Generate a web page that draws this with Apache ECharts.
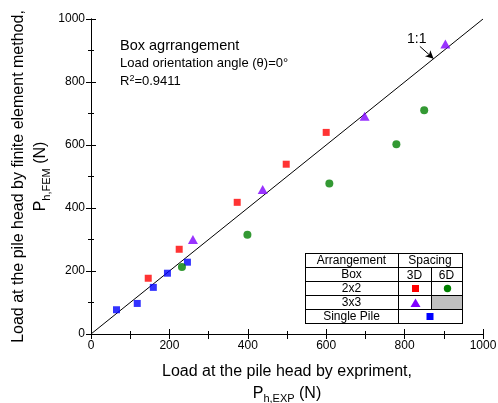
<!DOCTYPE html>
<html>
<head>
<meta charset="utf-8">
<script src="https://cdn.jsdelivr.net/npm/echarts@6/dist/echarts.min.js"></script>
<style>
  html, body { margin: 0; padding: 0; background: #fff; }
  #chart { width: 498px; height: 403px; }
</style>
</head>
<body>
<div id="chart"></div>
<script>
// Measured pile-head loads (N): experiment (x) vs finite element model (y)
const singlePile = [[65, 77], [118, 97], [159, 148], [195, 193], [246, 228]];
const box2x2_3D = [[146, 177], [225, 269], [373, 418], [498, 539], [600, 640]];
const box2x2_6D = [[232, 213], [399, 315], [608, 478], [779, 602], [850, 710]];
const box3x3_3D = [[260, 300], [438, 459], [698, 691], [904, 921]];
const oneToOne = [[0, 0], [1000, 1000]];

const axisTicks = [0, 200, 400, 600, 800, 1000];
const tableRows = ['Arrangement', 'Box', '2x2', '3x3', 'Single Pile'];
const spacingLabels = ['Spacing', '3D', '6D'];
const annotationLines = ['Box agrrangement', 'Load orientation angle (\u03b8)=0\u00b0', 'R{sup|2}=0.9411'];

const FONT = '"Liberation Sans", Arial, sans-serif';
const RED = '#ff0000', GREEN = '#008000', PURPLE = '#8000ff', BLUE = '#0000ff';

const chart = echarts.init(document.getElementById('chart'), null, { renderer: 'canvas' });

const baseAxis = {
  min: axisTicks[0],
  max: axisTicks[axisTicks.length - 1],
  interval: axisTicks[1] - axisTicks[0],
  axisLine: { show: true, lineStyle: { color: '#000', width: 1 } },
  axisTick: { show: true, inside: true, length: 5, lineStyle: { color: '#000' } },
  minorTick: { show: true, splitNumber: 2, length: 3, lineStyle: { color: '#000' } },
  splitLine: { show: false },
  axisLabel: { color: '#000', fontSize: 12, fontFamily: FONT, margin: 6, formatter: v => String(v) }
};

const nameRich = {
  t: { fontSize: 16, fontFamily: FONT, color: '#000', lineHeight: 22 },
  p: { fontSize: 16, fontFamily: FONT, color: '#000', lineHeight: 22 },
  s: { fontSize: 11, fontFamily: FONT, color: '#000', lineHeight: 14, verticalAlign: 'bottom' }
};

// Legend table geometry (pixels)
const TX = [305, 398, 431, 462];
const TY = [253, 267, 281, 295, 309, 323];
const lines = [];
function hl(x1, x2, y) { lines.push({ type: 'line', silent: true, shape: { x1: x1, y1: y + 0.5, x2: x2, y2: y + 0.5 }, style: { stroke: '#000', lineWidth: 1 } }); }
function vl(x, y1, y2) { lines.push({ type: 'line', silent: true, shape: { x1: x + 0.5, y1: y1, x2: x + 0.5, y2: y2 }, style: { stroke: '#000', lineWidth: 1 } }); }
TY.forEach(y => hl(TX[0], TX[3] + 1, y));
vl(TX[0], TY[0], TY[5] + 1);
vl(TX[1], TY[0], TY[5] + 1);
vl(TX[3], TY[0], TY[5] + 1);
vl(TX[2], TY[1], TY[4]);

const tableText = [];
function cellText(str, x, y) {
  tableText.push({ type: 'text', silent: true, style: { text: str, x: x, y: y, textAlign: 'center', textVerticalAlign: 'middle', fontSize: 12, fontFamily: FONT, fill: '#000' } });
}
tableRows.forEach((r, i) => cellText(r, (TX[0] + TX[1]) / 2, (TY[i] + TY[i + 1]) / 2 + 0.5));
cellText(spacingLabels[0], (TX[1] + TX[3]) / 2, (TY[0] + TY[1]) / 2 + 0.5);
cellText(spacingLabels[1], (TX[1] + TX[2]) / 2, (TY[1] + TY[2]) / 2 + 1.5);
cellText(spacingLabels[2], (TX[2] + TX[3]) / 2, (TY[1] + TY[2]) / 2 + 1.5);

const c3D = (TX[1] + TX[2]) / 2 + 1, c6D = (TX[2] + TX[3]) / 2 + 1;
const r2 = (TY[2] + TY[3]) / 2 + 0.5, r3 = (TY[3] + TY[4]) / 2 + 1, r4 = (TY[4] + TY[5]) / 2 + 0.5;
const tableMarks = [
  { type: 'rect', silent: true, shape: { x: TX[2] + 1, y: TY[3] + 1, width: TX[3] - TX[2] - 1, height: TY[4] - TY[3] - 1 }, style: { fill: '#c0c0c0' } },
  { type: 'rect', silent: true, shape: { x: c3D - 3.5, y: r2 - 3.5, width: 7, height: 7 }, style: { fill: RED } },
  { type: 'circle', silent: true, shape: { cx: c6D, cy: r2, r: 3.7 }, style: { fill: GREEN } },
  { type: 'polygon', silent: true, shape: { points: [[c3D, r3 - 4.5], [c3D + 5, r3 + 4], [c3D - 5, r3 + 4]] }, style: { fill: PURPLE } },
  { type: 'rect', silent: true, shape: { x: (TX[1] + TX[3]) / 2 - 3.5, y: r4 - 3.5, width: 7, height: 7 }, style: { fill: BLUE } }
];

const annotationSizes = [14.5, 13, 13];
const annotation = annotationLines.map((str, i) => ({
  type: 'text', silent: true,
  style: {
    text: str, x: 120, y: 46 + i * 17.5, textVerticalAlign: 'middle', fontSize: annotationSizes[i], fontFamily: FONT, fill: '#000',
    rich: {
      sup: { fontSize: 9, fontFamily: FONT, fill: '#000', lineHeight: 8, verticalAlign: 'top' }
    }
  }
}));

const scatterBase = { type: 'scatter', xAxisIndex: 0, yAxisIndex: 0, silent: true, z: 5 };

// 1:1 callout
const calloutFrom = [839, 913];
const calloutTo = [874, 874];
const calloutLabelAt = [831, 936];

chart.setOption({
  animation: false,
  backgroundColor: '#fff',
  grid: { left: 91, right: 15, top: 19, bottom: 69, containLabel: false, outerBoundsMode: 'none' },
  xAxis: [
    Object.assign({}, baseAxis, {
      type: 'value', position: 'bottom',
      name: '{t|Load at the pile head by expriment,}\n{p|P}{s|h,EXP}{p| (N)}',
      nameLocation: 'middle', nameGap: 26.5, nameMoveOverlap: false,
      nameTextStyle: { rich: nameRich, fontFamily: FONT }
    }),
    Object.assign({}, baseAxis, {
      type: 'value', position: 'top', interval: 100,
      minorTick: { show: false },
      axisLabel: { show: false }
    })
  ],
  yAxis: [
    Object.assign({}, baseAxis, {
      type: 'value', position: 'left',
      name: '{t|Load at the pile head by finite element method,}\n{p|P}{s|h,FEM}{p| (N)}',
      nameLocation: 'middle', nameGap: 39, nameRotate: 90, nameMoveOverlap: false,
      nameTextStyle: { rich: nameRich, fontFamily: FONT }
    }),
    Object.assign({}, baseAxis, {
      type: 'value', position: 'right',
      axisLabel: { show: false }
    })
  ],
  series: [
    {
      type: 'line', data: oneToOne, xAxisIndex: 0, yAxisIndex: 0, silent: true,
      symbol: 'none', lineStyle: { color: '#000', width: 1 }, z: 3,
      markLine: {
        silent: true, symbol: ['none', 'arrow'], symbolSize: [6, 8],
        lineStyle: { color: '#000', width: 1, type: 'solid' },
        label: { show: false },
        data: [[{ coord: calloutFrom }, { coord: calloutTo }]]
      },
      markPoint: {
        silent: true, symbol: 'circle', symbolSize: 0,
        label: { show: true, position: 'inside', formatter: '1:1', fontSize: 14, fontFamily: FONT, color: '#000' },
        data: [{ coord: calloutLabelAt }]
      }
    },
    Object.assign({}, scatterBase, { name: 'Single Pile', data: singlePile, symbol: 'rect', symbolSize: 7, itemStyle: { color: BLUE } }),
    Object.assign({}, scatterBase, { name: '2x2 3D', data: box2x2_3D, symbol: 'rect', symbolSize: 7, itemStyle: { color: RED } }),
    Object.assign({}, scatterBase, { name: '2x2 6D', data: box2x2_6D, symbol: 'circle', symbolSize: 8, itemStyle: { color: GREEN } }),
    Object.assign({}, scatterBase, { name: '3x3 3D', data: box3x3_3D, symbol: 'triangle', symbolSize: [10, 9], itemStyle: { color: PURPLE } })
  ],
  graphic: [].concat(
    [{ type: 'rect', silent: true, shape: { x: TX[0], y: TY[0], width: TX[3] - TX[0], height: TY[5] - TY[0] }, style: { fill: '#fff' }, z: 10 }],
    tableMarks.map(e => Object.assign(e, { z: 11 })),
    lines.map(e => Object.assign(e, { z: 12 })),
    tableText.map(e => Object.assign(e, { z: 12 })),
    annotation
  )
});
</script>
</body>
</html>
